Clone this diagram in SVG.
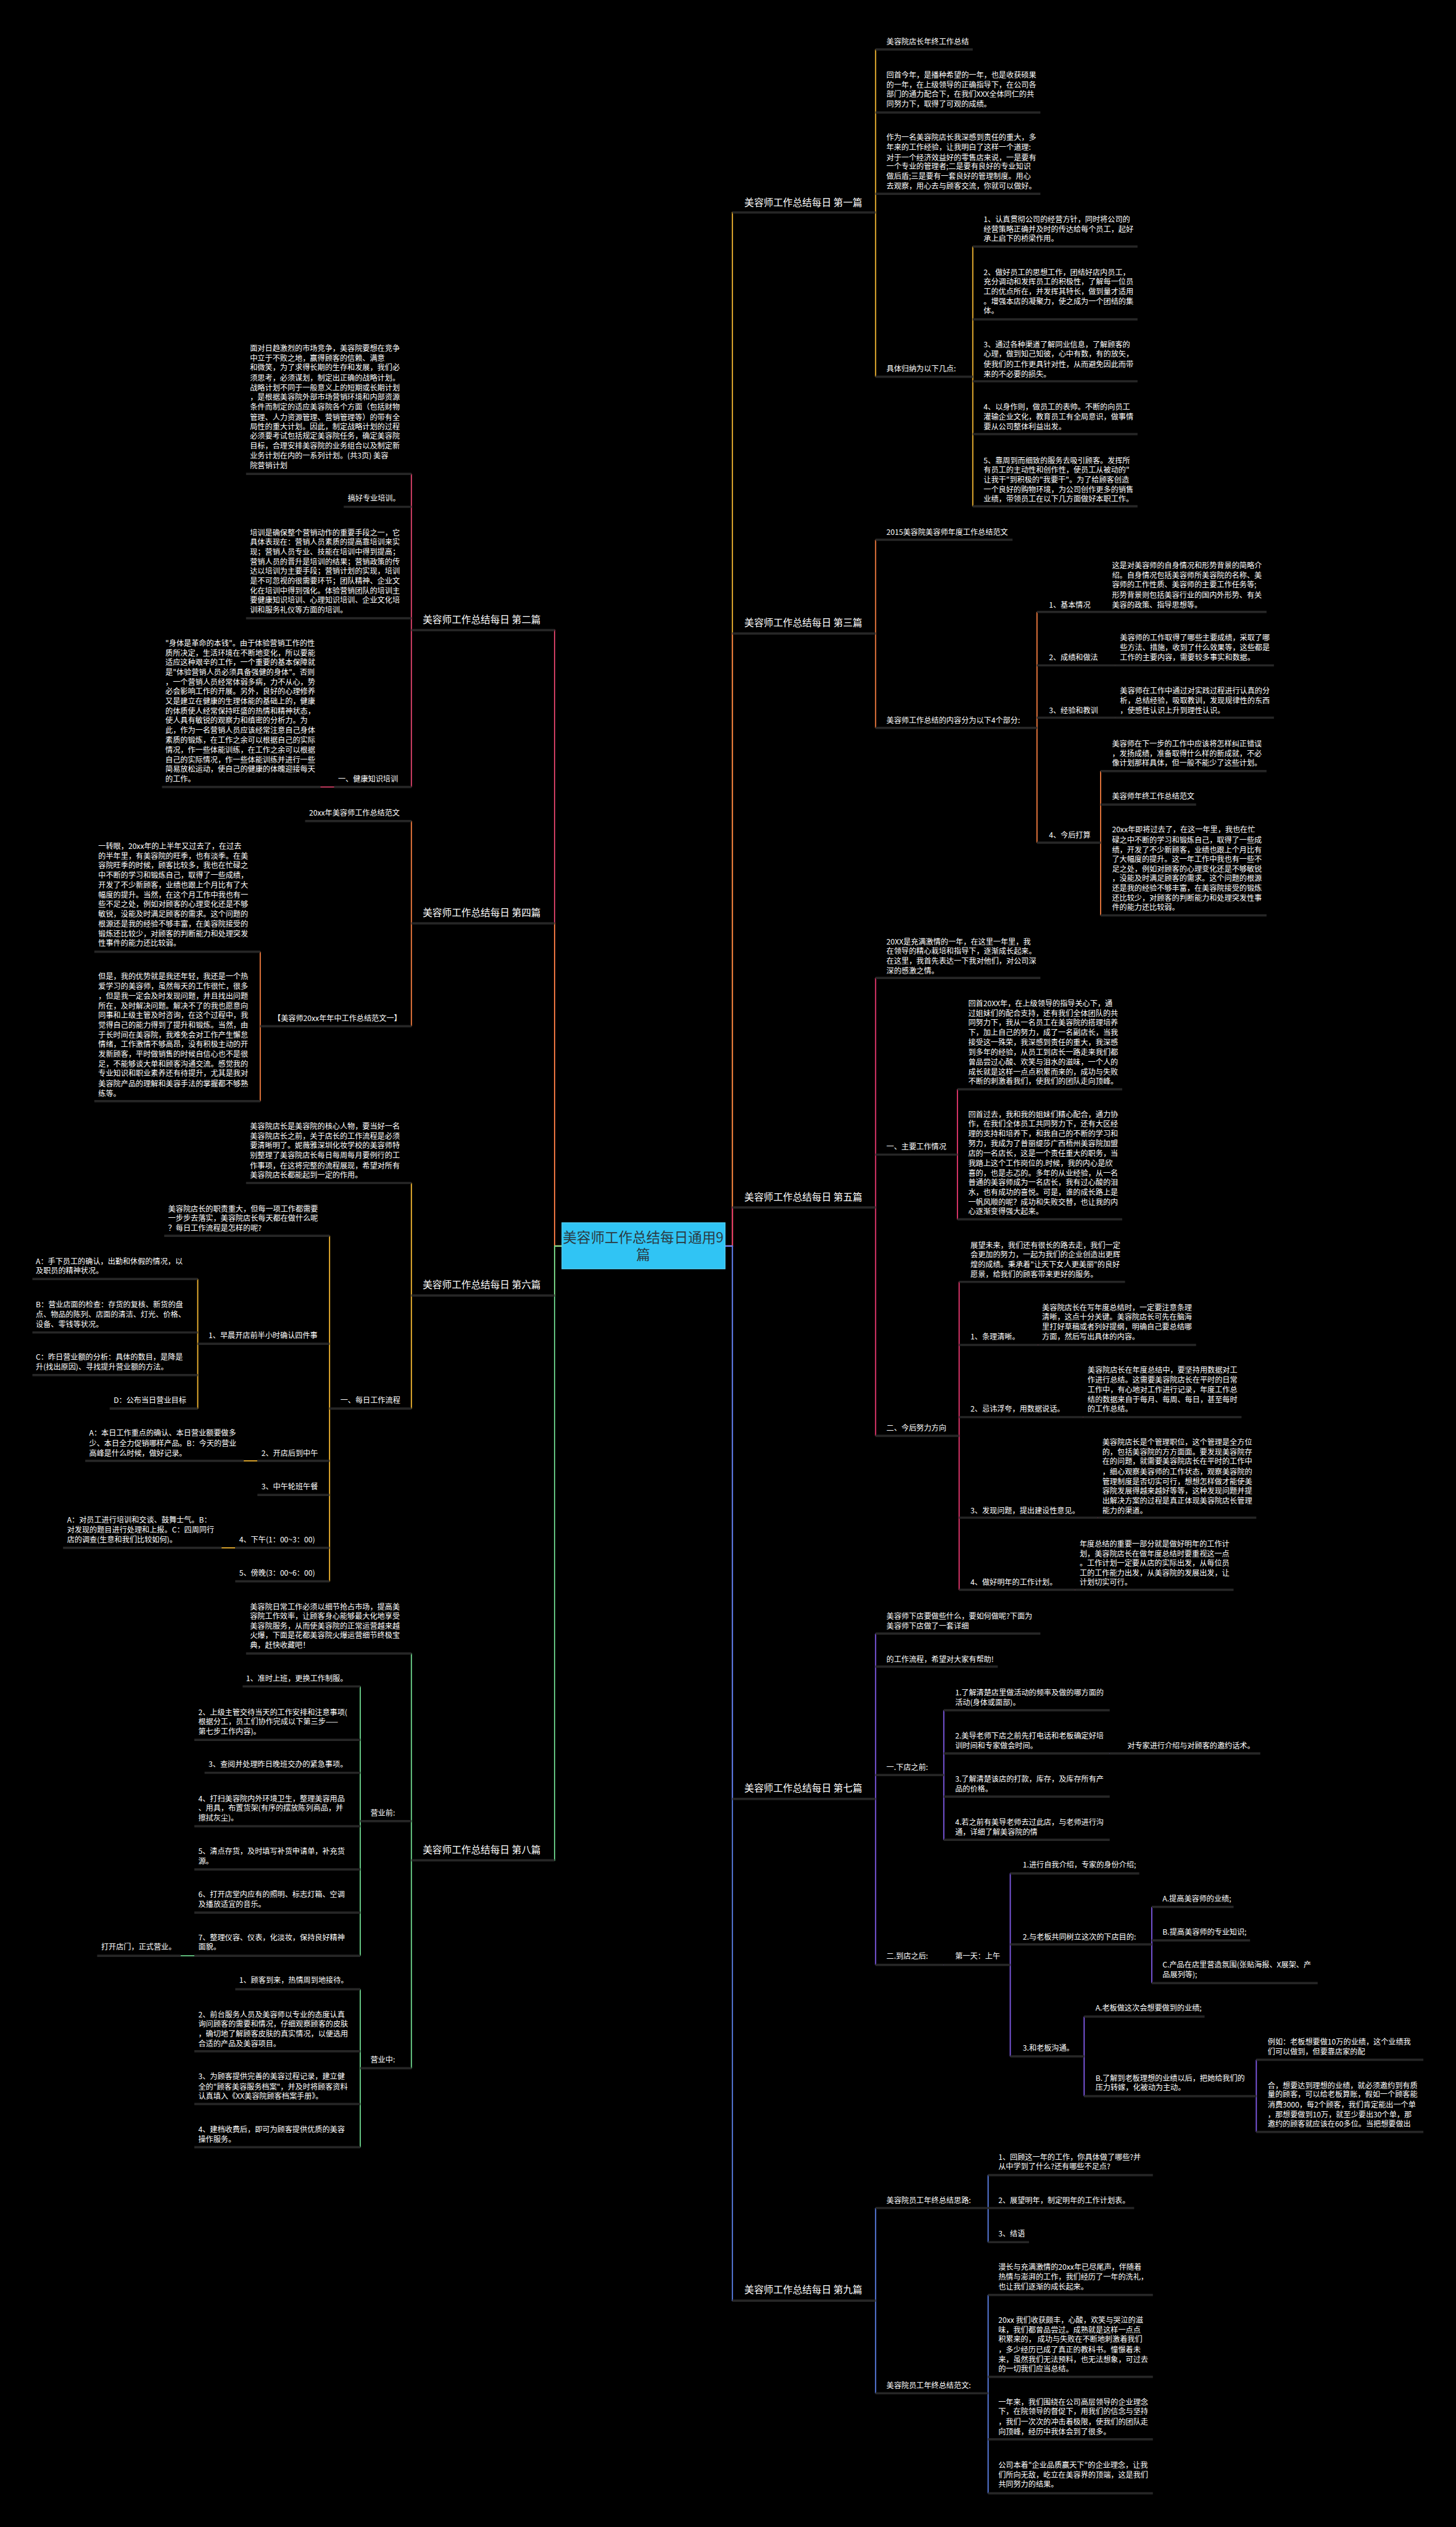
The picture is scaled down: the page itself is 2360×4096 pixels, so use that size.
<svg xmlns="http://www.w3.org/2000/svg" width="2360" height="4096" viewBox="0 0 2360 4096">
<style>
.t{font-family:"Noto Sans CJK SC","Noto Sans",sans-serif;font-size:13.2px;fill:#ffffff}
.h{font-size:17px}
.ct{font-family:"Noto Sans CJK SC","Noto Sans",sans-serif;font-size:24.5px;fill:#2b3a42;text-anchor:middle}
.u{stroke:#262626;stroke-width:4;fill:none}
.c{fill:none;stroke-width:2}
.gold{stroke:#F2B632}.orange{stroke:#F07B3F}.pink{stroke:#E8386F}.red{stroke:#E0446C}.purple{stroke:#7F5AE6}.blue{stroke:#5B7FE6}.green{stroke:#6CD48C}
</style>
<rect x="0" y="0" width="2360" height="4096" fill="#000"/>
<g transform="scale(0.921)">
<g id="connectors">
<path class="c gold" d="M1276 2193 H1289 V374 H1301 M1529 374 H1541 M1541 87 V663 M1541 87 H1553 M1541 198 H1553 M1541 341 H1553 M1541 663 H1553 M1700 663 H1712 M1712 434 V891 M1712 434 H1724 M1712 562 H1724 M1712 671 H1724 M1712 764 H1724 M1712 891 H1724"/>
<path class="c orange" d="M1276 2193 H1289 V1115 H1301 M1529 1115 H1541 M1541 950 V1281 M1541 950 H1553 M1541 1281 H1553 M1813 1281 H1825 M1825 1077 V1483 M1825 1077 H1837 M1825 1171 H1837 M1825 1263 H1837 M1825 1483 H1837 M1937 1077 H1961 M1951 1171 H1975 M1951 1263 H1975 M1925 1483 H1937 M1937 1357 V1611 M1937 1357 H1949 M1937 1416 H1949 M1937 1611 H1949"/>
<path class="c pink" d="M1276 2193 H1289 V2125 H1301 M1529 2125 H1541 M1541 1721 V2527 M1541 1721 H1553 M1541 2032 H1553 M1541 2527 H1553 M1673 2032 H1685 M1685 1917 V2146 M1685 1917 H1697 M1685 2146 H1697 M1676 2527 H1688 M1688 2256 V2798 M1688 2256 H1700 M1688 2367 H1700 M1688 2494 H1700 M1688 2671 H1700 M1688 2798 H1700 M1811 2367 H1843 M1890 2494 H1922 M1916 2671 H1948 M1876 2798 H1908"/>
<path class="c purple" d="M1276 2193 H1289 V3166 H1301 M1529 3166 H1541 M1541 2875 V3458 M1541 2875 H1553 M1541 2933 H1553 M1541 3124 H1553 M1541 3458 H1553 M1649 3124 H1661 M1661 3010 V3238 M1661 3010 H1673 M1661 3086 H1673 M1661 3162 H1673 M1661 3238 H1673 M1941 3086 H1965 M1649 3458 H1673 M1766 3458 H1778 M1778 3297 V3619 M1778 3297 H1790 M1778 3422 H1790 M1778 3619 H1790 M2015 3422 H2027 M2027 3356 V3490 M2027 3356 H2039 M2027 3415 H2039 M2027 3490 H2039 M1896 3619 H1908 M1908 3549 V3689 M1908 3549 H1920 M1908 3689 H1920 M2199 3689 H2211 M2211 3625 V3752 M2211 3625 H2223 M2211 3752 H2223"/>
<path class="c blue" d="M1276 2193 H1289 V4049 H1301 M1529 4049 H1541 M1541 3886 V4212 M1541 3886 H1553 M1541 4212 H1553 M1727 3886 H1739 M1739 3828 V3946 M1739 3828 H1751 M1739 3886 H1751 M1739 3946 H1751 M1727 4212 H1739 M1739 4039 V4388 M1739 4039 H1751 M1739 4183 H1751 M1739 4293 H1751 M1739 4388 H1751"/>
<path class="c red" d="M989 2193 H976 V1109 H964 M736 1109 H724 M724 834 V1385 M724 834 H712 M724 892 H712 M724 1088 H712 M724 1385 H712 M600 1385 H560"/>
<path class="c orange" d="M989 2193 H976 V1625 H964 M736 1625 H724 M724 1445 V1806 M724 1445 H712 M724 1806 H712 M470 1806 H458 M458 1675 V1938 M458 1675 H446 M458 1938 H446"/>
<path class="c gold" d="M989 2193 H976 V2280 H964 M736 2280 H724 M724 2082 V2479 M724 2082 H712 M724 2479 H712 M592 2479 H580 M580 2175 V2783 M580 2175 H568 M580 2365 H568 M580 2571 H568 M580 2631 H568 M580 2724 H568 M580 2783 H568 M360 2365 H348 M348 2251 V2479 M348 2251 H336 M348 2345 H336 M348 2420 H336 M348 2479 H336 M453 2571 H425 M414 2724 H386"/>
<path class="c green" d="M989 2193 H976 V3274 H964 M736 3274 H724 M724 2910 V3640 M724 2910 H712 M724 3205 H712 M724 3640 H712 M646 3205 H634 M634 2968 V3442 M634 2968 H622 M634 3062 H622 M634 3120 H622 M634 3214 H622 M634 3290 H622 M634 3366 H622 M634 3442 H622 M342 3442 H314 M646 3640 H634 M634 3501 V3779 M634 3501 H622 M634 3610 H622 M634 3703 H622 M634 3779 H622"/>
</g>
<g id="center">
<rect x="989" y="2152" width="287" height="81" fill="#30C4F4" stroke="#4fd0f7" stroke-width="1.5"/>
<text class="ct" x="1132" y="2187">美容师工作总结每日通用9</text>
<text class="ct" x="1132" y="2217">篇</text>
</g>

<g id="n1"><path class="u" d="M1289 374 H1541"/><text class="t h" x="1310" y="362.5">美容师工作总结每日 第一篇</text></g>
<g id="n1a"><path class="u" d="M1541 87 H1712"/><text class="t" x="1560" y="78">美容院店长年终工作总结</text></g>
<g id="n1b"><path class="u" d="M1541 198 H1831"/><text class="t"><tspan x="1560" y="137">回首今年，是播种希望的一年，也是收获硕果</tspan><tspan x="1560" y="154">的一年，在上级领导的正确指导下，在公司各</tspan><tspan x="1560" y="171">部门的通力配合下，在我们XXX全体同仁的共</tspan><tspan x="1560" y="188">同努力下，取得了可观的成绩。</tspan></text></g>
<g id="n1c"><path class="u" d="M1541 341 H1831"/><text class="t"><tspan x="1560" y="247">作为一名美容院店长我深感到责任的重大，多</tspan><tspan x="1560" y="264">年来的工作经验，让我明白了这样一个道理:</tspan><tspan x="1560" y="282">对于一个经济效益好的零售店来说，一是要有</tspan><tspan x="1560" y="298">一个专业的管理者;二是要有良好的专业知识</tspan><tspan x="1560" y="315">做后盾;三是要有一套良好的管理制度。用心</tspan><tspan x="1560" y="332">去观察，用心去与顾客交流，你就可以做好。</tspan></text></g>
<g id="n1d"><path class="u" d="M1541 663 H1712"/><text class="t" x="1560" y="654">具体归纳为以下几点:</text></g>
<g id="n1d1"><path class="u" d="M1712 434 H2002"/><text class="t"><tspan x="1731" y="391">1、认真贯彻公司的经营方针，同时将公司的</tspan><tspan x="1731" y="408">经营策略正确并及时的传达给每个员工，起好</tspan><tspan x="1731" y="425">承上启下的桥梁作用。</tspan></text></g>
<g id="n1d2"><path class="u" d="M1712 562 H2002"/><text class="t"><tspan x="1731" y="484">2、做好员工的思想工作，团结好店内员工，</tspan><tspan x="1731" y="501">充分调动和发挥员工的积极性，了解每一位员</tspan><tspan x="1731" y="518">工的优点所在，并发挥其特长，做到量才适用</tspan><tspan x="1731" y="535">。增强本店的凝聚力，使之成为一个团结的集</tspan><tspan x="1731" y="552">体。</tspan></text></g>
<g id="n1d3"><path class="u" d="M1712 671 H2002"/><text class="t"><tspan x="1731" y="611">3、通过各种渠道了解同业信息，了解顾客的</tspan><tspan x="1731" y="628">心理，做到知己知彼，心中有数，有的放矢，</tspan><tspan x="1731" y="646">使我们的工作更具针对性，从而避免因此而带</tspan><tspan x="1731" y="663">来的不必要的损失。</tspan></text></g>
<g id="n1d4"><path class="u" d="M1712 764 H2002"/><text class="t"><tspan x="1731" y="721">4、以身作则，做员工的表帅。不断的向员工</tspan><tspan x="1731" y="738">灌输企业文化，教育员工有全局意识，做事情</tspan><tspan x="1731" y="756">要从公司整体利益出发。</tspan></text></g>
<g id="n1d5"><path class="u" d="M1712 891 H2002"/><text class="t"><tspan x="1731" y="815">5、靠周到而细致的服务去吸引顾客。发挥所</tspan><tspan x="1731" y="832">有员工的主动性和创作性，使员工从被动的"</tspan><tspan x="1731" y="849">让我干"到积极的"我要干"。为了给顾客创造</tspan><tspan x="1731" y="866">一个良好的购物环境，为公司创作更多的销售</tspan><tspan x="1731" y="883">业绩，带领员工在以下几方面做好本职工作。</tspan></text></g>

<g id="n3"><path class="u" d="M1289 1115 H1541"/><text class="t h" x="1310" y="1102.5">美容师工作总结每日 第三篇</text></g>
<g id="n3a"><path class="u" d="M1541 950 H1782"/><text class="t" x="1560" y="941">2015美容院美容师年度工作总结范文</text></g>
<g id="n3b"><path class="u" d="M1541 1281 H1825"/><text class="t" x="1560" y="1272">美容师工作总结的内容分为以下4个部分:</text></g>
<g id="n3b1"><path class="u" d="M1825 1077 H1949"/><text class="t" x="1846" y="1069">1、基本情况</text></g>
<g id="n3b1a"><path class="u" d="M1949 1077 H2229"/><text class="t"><tspan x="1957" y="1000">这是对美容师的自身情况和形势背景的简略介</tspan><tspan x="1957" y="1017">绍。自身情况包括美容师所美容院的名称、美</tspan><tspan x="1957" y="1034">容师的工作性质、美容师的主要工作任务等;</tspan><tspan x="1957" y="1052">形势背景则包括美容行业的国内外形势、有关</tspan><tspan x="1957" y="1069">美容的政策、指导思想等。</tspan></text></g>
<g id="n3b2"><path class="u" d="M1825 1171 H1963"/><text class="t" x="1846" y="1162">2、成绩和做法</text></g>
<g id="n3b2a"><path class="u" d="M1963 1171 H2242"/><text class="t"><tspan x="1971" y="1127">美容师的工作取得了哪些主要成绩，采取了哪</tspan><tspan x="1971" y="1144">些方法、措施，收到了什么效果等，这些都是</tspan><tspan x="1971" y="1162">工作的主要内容，需要较多事实和数据。</tspan></text></g>
<g id="n3b3"><path class="u" d="M1825 1263 H1963"/><text class="t" x="1846" y="1255">3、经验和教训</text></g>
<g id="n3b3a"><path class="u" d="M1963 1263 H2242"/><text class="t"><tspan x="1971" y="1220">美容师在工作中通过对实践过程进行认真的分</tspan><tspan x="1971" y="1238">析，总结经验，吸取教训，发现规律性的东西</tspan><tspan x="1971" y="1255">，使感性认识上升到理性认识。</tspan></text></g>
<g id="n3b4"><path class="u" d="M1825 1483 H1937"/><text class="t" x="1846" y="1474">4、今后打算</text></g>
<g id="n3b4a"><path class="u" d="M1937 1357 H2229"/><text class="t"><tspan x="1957" y="1314">美容师在下一步的工作中应该将怎样纠正错误</tspan><tspan x="1957" y="1331">，发扬成绩，准备取得什么样的新成就，不必</tspan><tspan x="1957" y="1347">像计划那样具体，但一般不能少了这些计划。</tspan></text></g>
<g id="n3b4b"><path class="u" d="M1937 1416 H2105"/><text class="t" x="1957" y="1406">美容师年终工作总结范文</text></g>
<g id="n3b4c"><path class="u" d="M1937 1611 H2229"/><text class="t"><tspan x="1957" y="1465">20xx年即将过去了，在这一年里，我也在忙</tspan><tspan x="1957" y="1483">碌之中不断的学习和锻炼自己，取得了一些成</tspan><tspan x="1957" y="1500">绩，开发了不少新顾客，业绩也跟上个月比有</tspan><tspan x="1957" y="1517">了大幅度的提升。这一年工作中我也有一些不</tspan><tspan x="1957" y="1534">足之处，例如对顾客的心理变化还是不够敏锐</tspan><tspan x="1957" y="1551">，没能及时满足顾客的需求。这个问题的根源</tspan><tspan x="1957" y="1568">还是我的经验不够丰富，在美容院接受的锻炼</tspan><tspan x="1957" y="1585">还比较少，对顾客的判断能力和处理突发性事</tspan><tspan x="1957" y="1602">件的能力还比较弱。</tspan></text></g>

<g id="n5"><path class="u" d="M1289 2125 H1541"/><text class="t h" x="1310" y="2112.5">美容师工作总结每日 第五篇</text></g>
<g id="n5a"><path class="u" d="M1541 1721 H1831"/><text class="t"><tspan x="1560" y="1662">20XX是充满激情的一年，在这里一年里，我</tspan><tspan x="1560" y="1679">在领导的精心栽培和指导下，逐渐成长起来。</tspan><tspan x="1560" y="1696">在这里，我首先表达一下我对他们，对公司深</tspan><tspan x="1560" y="1713">深的感激之情。</tspan></text></g>
<g id="n5b"><path class="u" d="M1541 2032 H1685"/><text class="t" x="1560" y="2023">一、主要工作情况</text></g>
<g id="n5b1"><path class="u" d="M1685 1917 H1975"/><text class="t"><tspan x="1704" y="1771">回首20XX年，在上级领导的指导关心下，通</tspan><tspan x="1704" y="1788">过姐妹们的配合支持，还有我们全体团队的共</tspan><tspan x="1704" y="1805">同努力下，我从一名员工在美容院的搭理培养</tspan><tspan x="1704" y="1822">下，加上自己的努力，成了一名副店长，当我</tspan><tspan x="1704" y="1839">接受这一殊荣，我深感到责任的重大，我深感</tspan><tspan x="1704" y="1857">到多年的经验，从员工到店长一路走来我们都</tspan><tspan x="1704" y="1874">曾品尝过心酸、欢笑与泪水的滋味，一个人的</tspan><tspan x="1704" y="1891">成长就是这样一点点积累而来的，成功与失败</tspan><tspan x="1704" y="1908">不断的刺激着我们，使我们的团队走向顶峰。</tspan></text></g>
<g id="n5b2"><path class="u" d="M1685 2146 H1975"/><text class="t"><tspan x="1704" y="1966">回首过去，我和我的姐妹们精心配合，通力协</tspan><tspan x="1704" y="1983">作，在我们全体员工共同努力下，还有大区经</tspan><tspan x="1704" y="2000">理的支持和培养下，和我自己的不断的学习和</tspan><tspan x="1704" y="2017">努力，我成为了普丽缇莎广西梧州美容院加盟</tspan><tspan x="1704" y="2035">店的一名店长，这是一个责任重大的职务，当</tspan><tspan x="1704" y="2052">我踏上这个工作岗位的.时候，我的内心是欣</tspan><tspan x="1704" y="2069">喜的，也是忐忑的。多年的从业经验，从一名</tspan><tspan x="1704" y="2086">普通的美容师成为一名店长，我有过心酸的泪</tspan><tspan x="1704" y="2103">水，也有成功的喜悦。可是，谁的成长路上是</tspan><tspan x="1704" y="2120">一帆风顺的呢？成功和失败交替，也让我的内</tspan><tspan x="1704" y="2137">心逐渐变得强大起来。</tspan></text></g>
<g id="n5c"><path class="u" d="M1541 2527 H1688"/><text class="t" x="1560" y="2518">二、今后努力方向</text></g>
<g id="n5c0"><path class="u" d="M1688 2256 H1980"/><text class="t"><tspan x="1708" y="2196">展望未来，我们还有很长的路去走，我们一定</tspan><tspan x="1708" y="2213">会更加的努力，一起为我们的企业创造出更辉</tspan><tspan x="1708" y="2230">煌的成绩。秉承着"让天下女人更美丽"的良好</tspan><tspan x="1708" y="2248">愿景，给我们的顾客带来更好的服务。</tspan></text></g>
<g id="n5c1"><path class="u" d="M1688 2367 H1827"/><text class="t" x="1708" y="2357">1、条理清晰。</text></g>
<g id="n5c1a"><path class="u" d="M1827 2367 H2105"/><text class="t"><tspan x="1834" y="2306">美容院店长在写年度总结时，一定要注意条理</tspan><tspan x="1834" y="2323">清晰，这点十分关键。美容院店长可先在脑海</tspan><tspan x="1834" y="2340">里打好草稿或者列好提纲，明确自己要总结哪</tspan><tspan x="1834" y="2357">方面，然后写出具体的内容。</tspan></text></g>
<g id="n5c2"><path class="u" d="M1688 2494 H1906"/><text class="t" x="1708" y="2484">2、忌讳浮夸，用数据说话。</text></g>
<g id="n5c2a"><path class="u" d="M1906 2494 H2185"/><text class="t"><tspan x="1914" y="2416">美容院店长在年度总结中，要坚持用数据对工</tspan><tspan x="1914" y="2433">作进行总结。这需要美容院店长在平时的日常</tspan><tspan x="1914" y="2451">工作中，有心地对工作进行记录，年度工作总</tspan><tspan x="1914" y="2468">结的数据来自于每月、每周、每日，甚至每时</tspan><tspan x="1914" y="2484">的工作总结。</tspan></text></g>
<g id="n5c3"><path class="u" d="M1688 2671 H1932"/><text class="t" x="1708" y="2663">3、发现问题，提出建设性意见。</text></g>
<g id="n5c3a"><path class="u" d="M1932 2671 H2211"/><text class="t"><tspan x="1940" y="2543">美容院店长是个管理职位，这个管理是全方位</tspan><tspan x="1940" y="2560">的，包括美容院的方方面面。要发现美容院存</tspan><tspan x="1940" y="2577">在的问题，就需要美容院店长在平时的工作中</tspan><tspan x="1940" y="2595">，细心观察美容师的工作状态，观察美容院的</tspan><tspan x="1940" y="2612">管理制度是否切实可行，想想怎样做才能使美</tspan><tspan x="1940" y="2629">容院发展得越来越好等等，这种发现问题并提</tspan><tspan x="1940" y="2646">出解决方案的过程是真正体现美容院店长管理</tspan><tspan x="1940" y="2663">能力的渠道。</tspan></text></g>
<g id="n5c4"><path class="u" d="M1688 2798 H1892"/><text class="t" x="1708" y="2789">4、做好明年的工作计划。</text></g>
<g id="n5c4a"><path class="u" d="M1892 2798 H2171"/><text class="t"><tspan x="1900" y="2722">年度总结的重要一部分就是做好明年的工作计</tspan><tspan x="1900" y="2739">划，美容院店长在做年度总结时要重视这一点</tspan><tspan x="1900" y="2756">。工作计划一定要从店的实际出发，从每位员</tspan><tspan x="1900" y="2773">工的工作能力出发，从美容院的发展出发，让</tspan><tspan x="1900" y="2789">计划切实可行。</tspan></text></g>

<g id="n7"><path class="u" d="M1289 3166 H1541"/><text class="t h" x="1310" y="3153.5">美容师工作总结每日 第七篇</text></g>
<g id="n7a"><path class="u" d="M1541 2875 H1831"/><text class="t"><tspan x="1560" y="2849">美容师下店要做些什么，要如何做呢?下面为</tspan><tspan x="1560" y="2866">美容师下店做了一套详细</tspan></text></g>
<g id="n7b"><path class="u" d="M1541 2933 H1756"/><text class="t" x="1560" y="2925">的工作流程，希望对大家有帮助!</text></g>
<g id="n7c"><path class="u" d="M1541 3124 H1661"/><text class="t" x="1560" y="3115">一.下店之前:</text></g>
<g id="n7c1"><path class="u" d="M1661 3010 H1953"/><text class="t"><tspan x="1681" y="2984">1.了解清楚店里做活动的频率及做的哪方面的</tspan><tspan x="1681" y="3001">活动(身体或面部)。</tspan></text></g>
<g id="n7c2"><path class="u" d="M1661 3086 H1953"/><text class="t"><tspan x="1681" y="3060">2.美导老师下店之前先打电话和老板确定好培</tspan><tspan x="1681" y="3077">训时间和专家做会时间。</tspan></text></g>
<g id="n7c2a"><path class="u" d="M1953 3086 H2218"/><text class="t" x="1984" y="3077">对专家进行介绍与对顾客的邀约话术。</text></g>
<g id="n7c3"><path class="u" d="M1661 3162 H1953"/><text class="t"><tspan x="1681" y="3136">3.了解清楚该店的打款，库存，及库存所有产</tspan><tspan x="1681" y="3153">品的价格。</tspan></text></g>
<g id="n7c4"><path class="u" d="M1661 3238 H1953"/><text class="t"><tspan x="1681" y="3212">4.若之前有美导老师去过此店，与老师进行沟</tspan><tspan x="1681" y="3229">通，详细了解美容院的情</tspan></text></g>
<g id="n7d"><path class="u" d="M1541 3458 H1661"/><text class="t" x="1560" y="3447">二.到店之后:</text></g>
<g id="n7d1"><path class="u" d="M1661 3458 H1778"/><text class="t" x="1681" y="3447">第一天：上午</text></g>
<g id="n7e1"><path class="u" d="M1778 3297 H2005"/><text class="t" x="1800" y="3287">1.进行自我介绍，专家的身份介绍;</text></g>
<g id="n7e2"><path class="u" d="M1778 3422 H2027"/><text class="t" x="1800" y="3414">2.与老板共同树立这次的下店目的:</text></g>
<g id="n7f1"><path class="u" d="M2027 3356 H2171"/><text class="t" x="2046" y="3346">A.提高美容师的业绩;</text></g>
<g id="n7f2"><path class="u" d="M2027 3415 H2200"/><text class="t" x="2046" y="3405">B.提高美容师的专业知识;</text></g>
<g id="n7f3"><path class="u" d="M2027 3490 H2319"/><text class="t"><tspan x="2046" y="3463">C.产品在店里营造氛围(张贴海报、X展架、产</tspan><tspan x="2046" y="3480">品展列等);</tspan></text></g>
<g id="n7e3"><path class="u" d="M1778 3619 H1908"/><text class="t" x="1800" y="3609">3.和老板沟通。</text></g>
<g id="n7g1"><path class="u" d="M1908 3549 H2120"/><text class="t" x="1928" y="3539">A.老板做这次会想要做到的业绩;</text></g>
<g id="n7g2"><path class="u" d="M1908 3689 H2211"/><text class="t"><tspan x="1928" y="3662">B.了解到老板理想的业绩以后，把她给我们的</tspan><tspan x="1928" y="3679">压力转嫁，化被动为主动。</tspan></text></g>
<g id="n7h1"><path class="u" d="M2211 3625 H2505"/><text class="t"><tspan x="2231" y="3598">例如：老板想要做10万的业绩，这个业绩我</tspan><tspan x="2231" y="3616">们可以做到，但要靠店家的配</tspan></text></g>
<g id="n7h2"><path class="u" d="M2211 3752 H2505"/><text class="t"><tspan x="2231" y="3675">合，想要达到理想的业绩，就必须邀约到有质</tspan><tspan x="2231" y="3691">量的顾客，可以给老板算账，假如一个顾客能</tspan><tspan x="2231" y="3709">消费3000，每2个顾客，我们肯定能出一个单</tspan><tspan x="2231" y="3726">，那想要做到10万，就至少要出30个单，那</tspan><tspan x="2231" y="3743">邀约的顾客就应该在60多位。当把想要做出</tspan></text></g>

<g id="n9"><path class="u" d="M1289 4049 H1541"/><text class="t h" x="1310" y="4035.5">美容师工作总结每日 第九篇</text></g>
<g id="n9a"><path class="u" d="M1541 3886 H1739"/><text class="t" x="1560" y="3877">美容院员工年终总结思路:</text></g>
<g id="n9a1"><path class="u" d="M1739 3828 H2029"/><text class="t"><tspan x="1757" y="3801">1、回顾这一年的工作，你具体做了哪些?并</tspan><tspan x="1757" y="3818">从中学到了什么?还有哪些不足点?</tspan></text></g>
<g id="n9a2"><path class="u" d="M1739 3886 H1996"/><text class="t" x="1757" y="3877">2、展望明年，制定明年的工作计划表。</text></g>
<g id="n9a3"><path class="u" d="M1739 3946 H1811"/><text class="t" x="1757" y="3936">3、结语</text></g>
<g id="n9b"><path class="u" d="M1541 4212 H1739"/><text class="t" x="1560" y="4203">美容院员工年终总结范文:</text></g>
<g id="n9b1"><path class="u" d="M1739 4039 H2029"/><text class="t"><tspan x="1757" y="3995">漫长与充满激情的20xx年已尽尾声，伴随着</tspan><tspan x="1757" y="4012">热情与澎湃的工作，我们经历了一年的洗礼，</tspan><tspan x="1757" y="4029">也让我们逐渐的成长起来。</tspan></text></g>
<g id="n9b2"><path class="u" d="M1739 4183 H2029"/><text class="t"><tspan x="1757" y="4088">20xx 我们收获颇丰，心酸，欢笑与哭泣的滋</tspan><tspan x="1757" y="4105">味，我们都曾品尝过。成熟就是这样一点点</tspan><tspan x="1757" y="4122">积累来的， 成功与失败在不断地刺激着我们</tspan><tspan x="1757" y="4140">，多少经历已成了真正的教科书。憧憬着未</tspan><tspan x="1757" y="4157">来，虽然我们无法预料，也无法想象，可过去</tspan><tspan x="1757" y="4174">的一切我们应当总结。</tspan></text></g>
<g id="n9b3"><path class="u" d="M1739 4293 H2029"/><text class="t"><tspan x="1757" y="4232">一年来，我们围绕在公司高层领导的企业理念</tspan><tspan x="1757" y="4249">下，在院领导的督促下，用我们的信念与坚持</tspan><tspan x="1757" y="4267">，我们一次次的冲击着极限，使我们的团队走</tspan><tspan x="1757" y="4284">向顶峰，经历中我体会到了很多。</tspan></text></g>
<g id="n9b4"><path class="u" d="M1739 4388 H2029"/><text class="t"><tspan x="1757" y="4343">公司本着"企业品质赢天下"的企业理念，让我</tspan><tspan x="1757" y="4360">们所向无敌，屹立在美容界的顶端，这是我们</tspan><tspan x="1757" y="4377">共同努力的结果。</tspan></text></g>

<g id="n2"><path class="u" d="M724 1109 H976"/><text class="t h" x="744" y="1096.5">美容师工作总结每日 第二篇</text></g>
<g id="n2a"><path class="u" d="M433 834 H724"/><text class="t"><tspan x="440" y="618">面对日趋激烈的市场竞争，美容院要想在竞争</tspan><tspan x="440" y="635">中立于不败之地，赢得顾客的信赖、满意</tspan><tspan x="440" y="652">和微笑，为了求得长期的生存和发展，我们必</tspan><tspan x="440" y="670">须思考，必须谋划，制定出正确的战略计划。</tspan><tspan x="440" y="687">战略计划不同于一般意义上的短期或长期计划</tspan><tspan x="440" y="704">，是根据美容院外部市场营销环境和内部资源</tspan><tspan x="440" y="721">条件而制定的适应美容院各个方面（包括财物</tspan><tspan x="440" y="739">管理、人力资源管理、营销管理等）的带有全</tspan><tspan x="440" y="756">局性的重大计划。因此，制定战略计划的过程</tspan><tspan x="440" y="772">必须要考试包括规定美容院任务，确定美容院</tspan><tspan x="440" y="789">目标，合理安排美容院的业务组合以及制定新</tspan><tspan x="440" y="807">业务计划在内的一系列计划。(共3页) 美容</tspan><tspan x="440" y="824">院营销计划</tspan></text></g>
<g id="n2b"><path class="u" d="M605 892 H724"/><text class="t" x="612" y="882">搞好专业培训。</text></g>
<g id="n2c"><path class="u" d="M433 1088 H724"/><text class="t"><tspan x="440" y="942">培训是确保整个营销动作的重要手段之一，它</tspan><tspan x="440" y="959">具体表现在：营销人员素质的提高靠培训来实</tspan><tspan x="440" y="976">现；营销人员专业、技能在培训中得到提高；</tspan><tspan x="440" y="993">营销人员的晋升是培训的结果；营销政策的传</tspan><tspan x="440" y="1010">达以培训为主要手段；营销计划的实现，培训</tspan><tspan x="440" y="1027">是不可忽视的很需要环节；团队精神、企业文</tspan><tspan x="440" y="1044">化在培训中得到强化。体验营销团队的培训主</tspan><tspan x="440" y="1061">要健康知识培训、心理知识培训、企业文化培</tspan><tspan x="440" y="1078">训和服务礼仪等方面的培训。</tspan></text></g>
<g id="n2d"><path class="u" d="M588 1385 H724"/><text class="t" x="595" y="1376">一、健康知识培训</text></g>
<g id="n2d1"><path class="u" d="M285 1385 H564"/><text class="t"><tspan x="291" y="1137">"身体是革命的本钱"。由于体验营销工作的性</tspan><tspan x="291" y="1154">质所决定，生活环境在不断地变化，所以要能</tspan><tspan x="291" y="1171">适应这种艰辛的工作，一个重要的基本保障就</tspan><tspan x="291" y="1188">是"体验营销人员必须具备强健的身体"。否则</tspan><tspan x="291" y="1205">，一个营销人员经常体弱多病，力不从心，势</tspan><tspan x="291" y="1222">必会影响工作的开展。另外，良好的心理修养</tspan><tspan x="291" y="1239">又是建立在健康的生理体能的基础上的，健康</tspan><tspan x="291" y="1256">的体质使人经常保持旺盛的热情和精神状态，</tspan><tspan x="291" y="1273">使人具有敏锐的观察力和缜密的分析力。为</tspan><tspan x="291" y="1290">此，作为一名营销人员应该经常注意自己身体</tspan><tspan x="291" y="1307">素质的锻炼，在工作之余可以根据自己的实际</tspan><tspan x="291" y="1325">情况，作一些体能训练，在工作之余可以根据</tspan><tspan x="291" y="1342">自己的实际情况，作一些体能训练并进行一些</tspan><tspan x="291" y="1358">简易放松运动，使自己的健康的体魄迎接每天</tspan><tspan x="291" y="1376">的工作。</tspan></text></g>

<g id="n4"><path class="u" d="M724 1625 H976"/><text class="t h" x="744" y="1612.5">美容师工作总结每日 第四篇</text></g>
<g id="n4a"><path class="u" d="M537 1445 H724"/><text class="t" x="544" y="1435">20xx年美容师工作总结范文</text></g>
<g id="n4b"><path class="u" d="M458 1806 H724"/><text class="t" x="481" y="1797">【美容师20xx年年中工作总结范文一】</text></g>
<g id="n4b1"><path class="u" d="M166 1675 H458"/><text class="t"><tspan x="173" y="1494">一转眼，20xx年的上半年又过去了，在过去</tspan><tspan x="173" y="1511">的半年里，有美容院的旺季，也有淡季。在美</tspan><tspan x="173" y="1528">容院旺季的时候，顾客比较多，我也在忙碌之</tspan><tspan x="173" y="1545">中不断的学习和锻炼自己，取得了一些成绩，</tspan><tspan x="173" y="1562">开发了不少新顾客，业绩也跟上个月比有了大</tspan><tspan x="173" y="1580">幅度的提升。当然，在这个月工作中我也有一</tspan><tspan x="173" y="1596">些不足之处，例如对顾客的心理变化还是不够</tspan><tspan x="173" y="1614">敏锐，没能及时满足顾客的需求。这个问题的</tspan><tspan x="173" y="1631">根源还是我的经验不够丰富，在美容院接受的</tspan><tspan x="173" y="1648">锻炼还比较少，对顾客的判断能力和处理突发</tspan><tspan x="173" y="1665">性事件的能力还比较弱。</tspan></text></g>
<g id="n4b2"><path class="u" d="M166 1938 H458"/><text class="t"><tspan x="173" y="1723">但是，我的优势就是我还年轻，我还是一个热</tspan><tspan x="173" y="1740">爱学习的美容师，虽然每天的工作很忙，很多</tspan><tspan x="173" y="1758">，但是我一定会及时发现问题，并且找出问题</tspan><tspan x="173" y="1775">所在，及时解决问题。解决不了的我也愿意向</tspan><tspan x="173" y="1792">同事和上级主管及时咨询，在这个过程中，我</tspan><tspan x="173" y="1809">觉得自己的能力得到了提升和锻炼。当然，由</tspan><tspan x="173" y="1826">于长时间在美容院，我难免会对工作产生懈怠</tspan><tspan x="173" y="1843">情绪，工作激情不够高昂，没有积极主动的开</tspan><tspan x="173" y="1860">发新顾客，平时做销售的时候自信心也不是很</tspan><tspan x="173" y="1877">足，不能够谈大单和顾客沟通交流。感觉我的</tspan><tspan x="173" y="1894">专业知识和职业素养还有待提升，尤其是我对</tspan><tspan x="173" y="1912">美容院产品的理解和美容手法的掌握都不够熟</tspan><tspan x="173" y="1929">练等。</tspan></text></g>

<g id="n6"><path class="u" d="M724 2280 H976"/><text class="t h" x="744" y="2267.5">美容师工作总结每日 第六篇</text></g>
<g id="n6a"><path class="u" d="M433 2082 H724"/><text class="t"><tspan x="440" y="1987">美容院店长是美容院的核心人物，要当好一名</tspan><tspan x="440" y="2004">美容院店长之前，关于店长的工作流程是必须</tspan><tspan x="440" y="2021">要清晰明了。妮薇雅深圳化妆学校的美容师特</tspan><tspan x="440" y="2038">别整理了美容院店长每日每周每月要例行的工</tspan><tspan x="440" y="2056">作事项，在这将完整的流程展现，希望对所有</tspan><tspan x="440" y="2073">美容院店长都能起到一定的作用。</tspan></text></g>
<g id="n6b"><path class="u" d="M580 2479 H724"/><text class="t" x="599" y="2469">一、每日工作流程</text></g>
<g id="n6b0"><path class="u" d="M289 2175 H580"/><text class="t"><tspan x="296" y="2133">美容院店长的职责重大，但每一项工作都需要</tspan><tspan x="296" y="2149">一步步去落实，美容院店长每天都在做什么呢</tspan><tspan x="296" y="2166">？每日工作流程是怎样的呢?</tspan></text></g>
<g id="n6b1"><path class="u" d="M348 2365 H580"/><text class="t" x="367" y="2355">1、早晨开店前半小时确认四件事</text></g>
<g id="n6b1a"><path class="u" d="M57 2251 H348"/><text class="t"><tspan x="63" y="2225">A：手下员工的确认，出勤和休假的情况，以</tspan><tspan x="63" y="2241">及职员的精神状况。</tspan></text></g>
<g id="n6b1b"><path class="u" d="M57 2345 H348"/><text class="t"><tspan x="63" y="2301">B：营业店面的检查：存货的复核、新货的盘</tspan><tspan x="63" y="2318">点、物品的陈列、店面的清洁、灯光、价格、</tspan><tspan x="63" y="2335">设备、零钱等状况。</tspan></text></g>
<g id="n6b1c"><path class="u" d="M57 2420 H348"/><text class="t"><tspan x="63" y="2393">C：昨日营业额的分析：具体的数目，是降是</tspan><tspan x="63" y="2410">升(找出原因)、寻找提升营业额的方法。</tspan></text></g>
<g id="n6b1d"><path class="u" d="M193 2479 H348"/><text class="t" x="200" y="2469">D：公布当日营业目标</text></g>
<g id="n6b2"><path class="u" d="M453 2571 H580"/><text class="t" x="460" y="2562">2、开店后到中午</text></g>
<g id="n6b2a"><path class="u" d="M150 2571 H429"/><text class="t"><tspan x="157" y="2527">A：本日工作重点的确认、本日营业额要做多</tspan><tspan x="157" y="2545">少、本日全力促销哪样产品。B：今天的营业</tspan><tspan x="157" y="2562">高峰是什么时候，做好记录。</tspan></text></g>
<g id="n6b3"><path class="u" d="M453 2631 H580"/><text class="t" x="460" y="2621">3、中午轮班午餐</text></g>
<g id="n6b4"><path class="u" d="M414 2724 H580"/><text class="t" x="421" y="2714">4、下午(1：00~3：00)</text></g>
<g id="n6b4a"><path class="u" d="M111 2724 H390"/><text class="t"><tspan x="118" y="2680">A：对员工进行培训和交谈、鼓舞士气。B：</tspan><tspan x="118" y="2697">对发现的题目进行处理和上报。C：四周同行</tspan><tspan x="118" y="2714">店的调查(生意和我们比较如何)。</tspan></text></g>
<g id="n6b5"><path class="u" d="M414 2783 H580"/><text class="t" x="421" y="2773">5、傍晚(3：00~6：00)</text></g>

<g id="n8"><path class="u" d="M724 3274 H976"/><text class="t h" x="744" y="3261.5">美容师工作总结每日 第八篇</text></g>
<g id="n8a"><path class="u" d="M433 2910 H724"/><text class="t"><tspan x="440" y="2833">美容院日常工作必须以细节抢占市场，提高美</tspan><tspan x="440" y="2849">容院工作效率，让顾客身心能够最大化地享受</tspan><tspan x="440" y="2866">美容院服务，从而使美容院的正常运营越来越</tspan><tspan x="440" y="2883">火爆，下面是花都美容院火爆运营细节终极宝</tspan><tspan x="440" y="2900">典，赶快收藏吧！</tspan></text></g>
<g id="n8b"><path class="u" d="M634 3205 H724"/><text class="t" x="652" y="3195">营业前:</text></g>
<g id="n8b1"><path class="u" d="M427 2968 H634"/><text class="t" x="433" y="2959">1、准时上班，更换工作制服。</text></g>
<g id="n8b2"><path class="u" d="M342 3062 H634"/><text class="t"><tspan x="349" y="3018">2、上级主管交待当天的工作安排和注意事项(</tspan><tspan x="349" y="3035">根据分工，员工们协作完成以下第三步——</tspan><tspan x="349" y="3052">第七步工作内容)。</tspan></text></g>
<g id="n8b3"><path class="u" d="M360 3120 H634"/><text class="t" x="367" y="3110">3、查阅并处理昨日晚班交办的紧急事项。</text></g>
<g id="n8b4"><path class="u" d="M342 3214 H634"/><text class="t"><tspan x="349" y="3170">4、打扫美容院内外环境卫生，整理美容用品</tspan><tspan x="349" y="3187">、用具，布置货架(有序的摆放陈列商品，并</tspan><tspan x="349" y="3204">擦拭灰尘)。</tspan></text></g>
<g id="n8b5"><path class="u" d="M342 3290 H634"/><text class="t"><tspan x="349" y="3263">5、清点存货，及时填写补货申请单，补充货</tspan><tspan x="349" y="3280">源。</tspan></text></g>
<g id="n8b6"><path class="u" d="M342 3366 H634"/><text class="t"><tspan x="349" y="3339">6、打开店堂内应有的照明、标志灯箱、空调</tspan><tspan x="349" y="3356">及播放适宜的音乐。</tspan></text></g>
<g id="n8b7"><path class="u" d="M342 3442 H634"/><text class="t"><tspan x="349" y="3415">7、整理仪容、仪表，化淡妆，保持良好精神</tspan><tspan x="349" y="3431">面貌。</tspan></text></g>
<g id="n8b7a"><path class="u" d="M171 3442 H318"/><text class="t" x="178" y="3431">打开店门，正式营业。</text></g>
<g id="n8c"><path class="u" d="M634 3640 H724"/><text class="t" x="652" y="3630">营业中:</text></g>
<g id="n8c1"><path class="u" d="M414 3501 H634"/><text class="t" x="421" y="3490">1、顾客到来，热情周到地接待。</text></g>
<g id="n8c2"><path class="u" d="M342 3610 H634"/><text class="t"><tspan x="349" y="3550">2、前台服务人员及美容师以专业的态度认真</tspan><tspan x="349" y="3567">询问顾客的需要和情况，仔细观察顾客的皮肤</tspan><tspan x="349" y="3584">，确切地了解顾客皮肤的真实情况，以便选用</tspan><tspan x="349" y="3601">合适的产品及美容项目。</tspan></text></g>
<g id="n8c3"><path class="u" d="M342 3703 H634"/><text class="t"><tspan x="349" y="3659">3、为顾客提供完善的美容过程记录，建立健</tspan><tspan x="349" y="3677">全的"顾客美容服务档案"，并及时将顾客资料</tspan><tspan x="349" y="3694">认真填入《XX美容院顾客档案手册》。</tspan></text></g>
<g id="n8c4"><path class="u" d="M342 3779 H634"/><text class="t"><tspan x="349" y="3752">4、建档收费后，即可为顾客提供优质的美容</tspan><tspan x="349" y="3770">操作服务。</tspan></text></g>
</g>
</svg>
